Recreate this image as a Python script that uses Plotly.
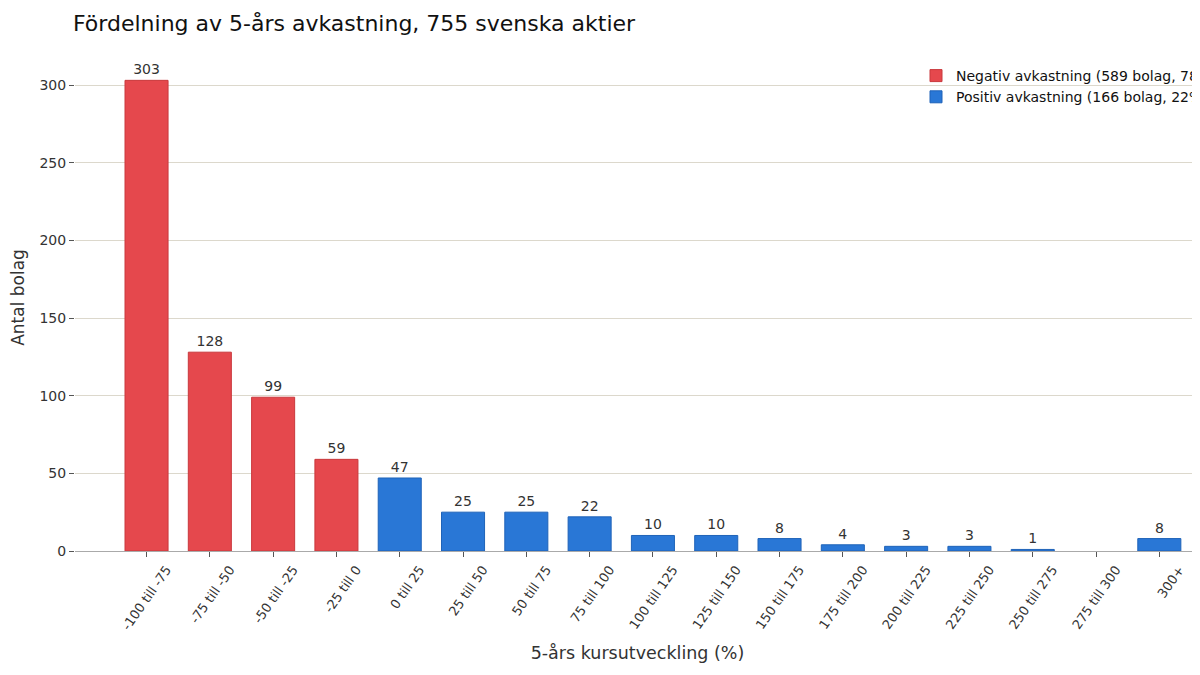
import plotly.graph_objects as go

# --- data ---
categories = ["-100 till -75", "-75 till -50", "-50 till -25", "-25 till 0",
              "0 till 25", "25 till 50", "50 till 75", "75 till 100",
              "100 till 125", "125 till 150", "150 till 175", "175 till 200",
              "200 till 225", "225 till 250", "250 till 275", "275 till 300",
              "300+"]
counts = [303, 128, 99, 59, 47, 25, 25, 22, 10, 10, 8, 4, 3, 3, 1, 0, 8]
n_negative = 4  # first four bins are below zero

neg_name = "Negativ avkastning (589 bolag, 78%)"
pos_name = "Positiv avkastning (166 bolag, 22%)"

RED = "#e5484d"
RED_EDGE = "#c9383c"
BLUE = "#2977d6"
BLUE_EDGE = "#1f63b8"

# page body has an 8px margin on every side; keep the figure inside the
# window (no scrollbars) and shift the pixel positions by that amount
OFF = 8
W, H = 1200 - OFF, 675 - 2 * OFF - 4

x_idx = list(range(len(categories)))


def labels(vals):
    return [str(v) if v > 0 else "" for v in vals]


def edge_widths(vals):
    # no outline on empty bins, otherwise a hairline shows
    return [1 if v > 0 else 0 for v in vals]


neg_x, neg_y = x_idx[:n_negative], counts[:n_negative]
pos_x, pos_y = x_idx[n_negative:], counts[n_negative:]

bar_common = dict(width=0.68, textposition="outside", cliponaxis=False,
                  textfont=dict(size=14, color="#333333"))

fig = go.Figure()
fig.add_trace(go.Bar(x=neg_x, y=neg_y, name=neg_name, text=labels(neg_y),
                     marker=dict(color=RED, line=dict(color=RED_EDGE,
                                                      width=edge_widths(neg_y))),
                     **bar_common))
fig.add_trace(go.Bar(x=pos_x, y=pos_y, name=pos_name, text=labels(pos_y),
                     marker=dict(color=BLUE, line=dict(color=BLUE_EDGE,
                                                       width=edge_widths(pos_y))),
                     **bar_common))

# plot area in window pixels: left 75, top 44, bottom 551
plot_l = 75 - OFF
plot_t = 44 - OFF
plot_b = H - (551 - OFF)
plot_w = W - plot_l
plot_h = H - plot_t - plot_b

fig.update_layout(
    width=W, height=H,
    paper_bgcolor="white", plot_bgcolor="white",
    font=dict(family="DejaVu Sans", size=14, color="#333333"),
    title=dict(text="Fördelning av 5-års avkastning, 755 svenska aktier",
               x=(73 - OFF) / W, xanchor="left", y=1 - (23 - OFF) / H, yanchor="middle",
               font=dict(size=22, color="#111111")),
    margin=dict(l=plot_l, r=0, t=plot_t, b=plot_b, autoexpand=False),
    showlegend=True,
    legend=dict(x=(916 - 75) / plot_w, y=1 - (60 - 44) / plot_h,
                xanchor="left", yanchor="top",
                bgcolor="rgba(0,0,0,0)", font=dict(size=14, color="#111111"),
                itemwidth=30, tracegroupgap=0),
)

fig.update_xaxes(
    tickmode="array", tickvals=x_idx, ticktext=categories, tickangle=-55,
    ticklabelshift=20,
    range=[-1.13, -1.13 + plot_w / 63.3], showgrid=False, zeroline=False,
    showline=True, linecolor="#aaaaaa", linewidth=1,
    ticks="outside", ticklen=5, tickcolor="#555555",
    tickfont=dict(size=13, color="#333333"),
    title=dict(text="5-års kursutveckling (%)", font=dict(size=17.5, color="#333333"),
               standoff=15),
)
fig.update_yaxes(
    range=[0, 326.4], tickvals=[0, 50, 100, 150, 200, 250, 300],
    showgrid=True, gridcolor="#dcd8cc", gridwidth=1, zeroline=False,
    showline=False, ticks="outside", ticklen=5, tickcolor="#555555",
    tickfont=dict(size=14, color="#333333"),
    title=dict(text="Antal bolag", font=dict(size=17, color="#333333"), standoff=12),
)

fig.write_html("out.html")
